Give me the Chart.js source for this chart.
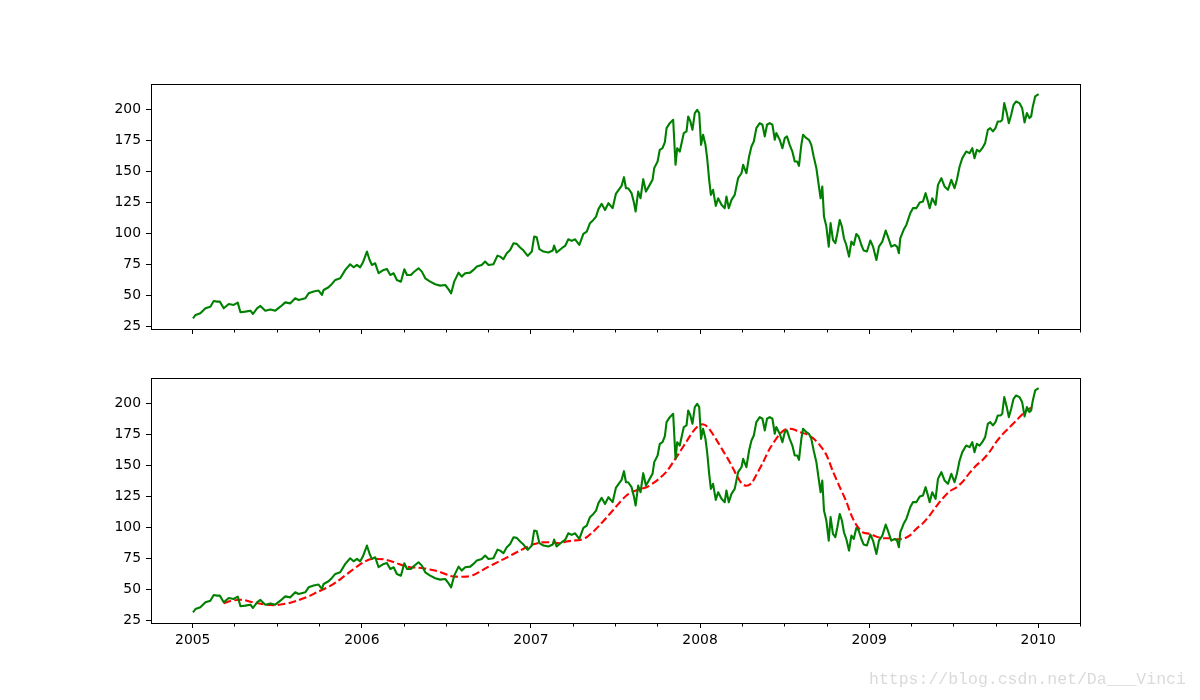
<!DOCTYPE html>
<html>
<head>
<meta charset="utf-8">
<script src="https://cdn.jsdelivr.net/npm/chart.js@4.4.0/dist/chart.umd.min.js"></script>
<style>
  body { margin: 0; background: #fff; }
  #wrap { position: relative; width: 1200px; height: 700px; overflow: hidden; }
  canvas { position: absolute; left: 0; }
  #topChart { top: 0; }
  #bottomChart { top: 350px; }
  .mark { position: absolute; left: 869px; top: 672px; font: 16.5px "Liberation Mono", monospace; line-height: 1; color: #dadada; white-space: pre; }
</style>
</head>
<body>
<div id="wrap">
  <canvas id="topChart" width="1200" height="350"></canvas>
  <canvas id="bottomChart" width="1200" height="350"></canvas>
  <div class="mark">https://blog.csdn.net/Da___Vinci</div>
</div>
<script>
// closing price, time in decimal years
const priceYears = [
  2005.005, 2005.016, 2005.045, 2005.075, 2005.104, 2005.124, 2005.144, 2005.160, 2005.183, 2005.213,
  2005.242, 2005.266, 2005.282, 2005.311, 2005.341, 2005.356, 2005.380, 2005.400, 2005.429, 2005.459,
  2005.488, 2005.518, 2005.547, 2005.577, 2005.606, 2005.626, 2005.666, 2005.685, 2005.715, 2005.744,
  2005.764, 2005.774, 2005.803, 2005.823, 2005.843, 2005.872, 2005.902, 2005.931, 2005.951, 2005.971,
  2005.990, 2006.006, 2006.030, 2006.046, 2006.059, 2006.079, 2006.099, 2006.129, 2006.148, 2006.168,
  2006.188, 2006.207, 2006.231, 2006.251, 2006.267, 2006.290, 2006.306, 2006.335, 2006.355, 2006.375,
  2006.404, 2006.434, 2006.463, 2006.493, 2006.513, 2006.528, 2006.546, 2006.572, 2006.591, 2006.611,
  2006.641, 2006.660, 2006.680, 2006.709, 2006.729, 2006.749, 2006.778, 2006.802, 2006.818, 2006.837,
  2006.857, 2006.877, 2006.897, 2006.916, 2006.936, 2006.956, 2006.981, 2007.005, 2007.019, 2007.034,
  2007.050, 2007.074, 2007.103, 2007.129, 2007.137, 2007.152, 2007.182, 2007.202, 2007.221, 2007.241,
  2007.261, 2007.286, 2007.310, 2007.330, 2007.349, 2007.369, 2007.385, 2007.399, 2007.418, 2007.438,
  2007.458, 2007.483, 2007.502, 2007.522, 2007.536, 2007.550, 2007.562, 2007.575, 2007.595, 2007.609,
  2007.619, 2007.634, 2007.648, 2007.664, 2007.680, 2007.699, 2007.719, 2007.729, 2007.749, 2007.762,
  2007.778, 2007.792, 2007.802, 2007.821, 2007.841, 2007.855, 2007.865, 2007.880, 2007.904, 2007.920,
  2007.930, 2007.943, 2007.955, 2007.969, 2007.983, 2007.995, 2008.006, 2008.018, 2008.032, 2008.042,
  2008.054, 2008.064, 2008.077, 2008.093, 2008.107, 2008.127, 2008.146, 2008.156, 2008.170, 2008.186,
  2008.205, 2008.225, 2008.245, 2008.255, 2008.274, 2008.290, 2008.304, 2008.318, 2008.333, 2008.353,
  2008.369, 2008.383, 2008.396, 2008.412, 2008.428, 2008.442, 2008.451, 2008.471, 2008.487, 2008.501,
  2008.514, 2008.530, 2008.546, 2008.560, 2008.574, 2008.585, 2008.599, 2008.609, 2008.629, 2008.644,
  2008.658, 2008.672, 2008.688, 2008.703, 2008.713, 2008.723, 2008.733, 2008.747, 2008.761, 2008.772,
  2008.786, 2008.800, 2008.812, 2008.826, 2008.839, 2008.851, 2008.865, 2008.881, 2008.895, 2008.909,
  2008.924, 2008.938, 2008.954, 2008.968, 2008.987, 2009.007, 2009.023, 2009.043, 2009.058, 2009.078,
  2009.098, 2009.111, 2009.131, 2009.151, 2009.165, 2009.176, 2009.184, 2009.204, 2009.220, 2009.230,
  2009.243, 2009.259, 2009.279, 2009.299, 2009.318, 2009.334, 2009.348, 2009.358, 2009.373, 2009.393,
  2009.407, 2009.427, 2009.446, 2009.466, 2009.486, 2009.505, 2009.519, 2009.535, 2009.551, 2009.574,
  2009.594, 2009.610, 2009.623, 2009.637, 2009.653, 2009.669, 2009.686, 2009.702, 2009.716, 2009.732,
  2009.747, 2009.761, 2009.777, 2009.787, 2009.799, 2009.814, 2009.826, 2009.840, 2009.854, 2009.869,
  2009.889, 2009.905, 2009.919, 2009.933, 2009.948, 2009.958, 2009.968, 2009.982, 2009.997
];
const priceValues = [
  32.3, 34.4, 35.8, 39.8, 41.1, 45.7, 45.2, 45.2, 39.8, 43.3,
  42.5, 44.4, 36.6, 37.1, 37.9, 35.2, 39.8, 41.7, 37.9, 38.9,
  37.9, 41.1, 44.6, 43.8, 47.9, 46.5, 47.9, 51.9, 53.3, 54.1,
  50.6, 54.6, 56.8, 59.5, 62.7, 64.0, 70.8, 75.3, 72.9, 74.8,
  72.9, 76.7, 85.6, 78.8, 74.8, 76.1, 68.1, 70.8, 71.6, 66.7,
  68.1, 62.7, 61.3, 71.3, 66.7, 66.7, 68.9, 72.1, 69.4, 64.0,
  61.3, 59.2, 58.1, 58.6, 55.1, 51.9, 61.3, 68.6, 65.4, 68.1,
  68.6, 70.8, 73.5, 74.8, 77.5, 74.8, 75.3, 82.3, 81.5, 79.4,
  84.2, 86.9, 92.3, 91.8, 88.8, 86.4, 82.1, 85.6, 97.7, 97.1,
  87.5, 85.6, 84.8, 86.4, 90.4, 84.8, 88.3, 90.1, 95.5, 94.2,
  95.5, 90.9, 99.8, 101.7, 108.5, 111.1, 113.8, 119.8, 124.1, 119.2,
  124.6, 120.6, 132.1, 135.9, 138.6, 145.6, 136.7, 136.7, 132.7, 125.1,
  117.9, 134.0, 128.6, 144.0, 134.0, 138.6, 143.5, 152.9, 158.3, 167.7,
  169.0, 173.9, 185.2, 189.2, 191.9, 155.6, 169.0, 166.3, 181.2, 182.5,
  194.6, 190.6, 183.8, 197.3, 200.0, 197.3, 171.7, 179.8, 171.7, 161.0,
  143.5, 131.3, 135.4, 122.5, 128.6, 123.3, 120.6, 130.0, 120.6, 127.3,
  131.3, 144.8, 148.8, 155.6, 148.8, 162.3, 170.4, 174.4, 185.2, 189.2,
  187.9, 178.5, 187.9, 189.2, 187.9, 175.8, 181.2, 175.8, 169.0, 177.1,
  178.5, 171.7, 166.3, 158.3, 158.3, 154.8, 171.7, 179.8, 177.1, 175.8,
  171.7, 162.3, 152.9, 138.1, 128.6, 138.1, 113.8, 105.8, 89.6, 108.5,
  95.0, 92.3, 100.4, 111.1, 105.8, 96.3, 90.9, 81.5, 93.6, 90.9,
  99.8, 97.7, 90.9, 86.4, 85.6, 94.5, 89.6, 78.8, 89.6, 93.6,
  102.5, 97.7, 89.6, 90.9, 89.6, 84.2, 96.3, 103.1, 107.1, 111.1,
  116.5, 120.6, 120.6, 125.1, 125.9, 132.7, 125.9, 120.6, 128.6, 123.3,
  139.4, 144.8, 138.1, 135.4, 143.5, 136.7, 143.5, 154.2, 161.0, 166.3,
  165.0, 169.0, 161.0, 167.7, 166.3, 169.0, 173.1, 183.8, 185.2, 182.5,
  185.2, 190.6, 190.6, 191.9, 205.4, 197.3, 189.2, 196.0, 204.0, 206.7,
  205.4, 201.3, 189.8, 197.3, 193.3, 194.6, 202.7, 210.8, 212.1
];

// moving average (red dashed, lower panel)
const maYears = [
  2005.183, 2005.223, 2005.262, 2005.301, 2005.341, 2005.380, 2005.419, 2005.459, 2005.498, 2005.538,
  2005.577, 2005.616, 2005.656, 2005.695, 2005.734, 2005.774, 2005.813, 2005.853, 2005.892, 2005.931,
  2005.971, 2006.010, 2006.049, 2006.089, 2006.128, 2006.168, 2006.207, 2006.246, 2006.286, 2006.325,
  2006.364, 2006.404, 2006.443, 2006.483, 2006.522, 2006.561, 2006.620, 2006.660, 2006.699, 2006.739,
  2006.778, 2006.817, 2006.857, 2006.896, 2006.935, 2006.975, 2007.014, 2007.054, 2007.093, 2007.132,
  2007.172, 2007.211, 2007.250, 2007.290, 2007.329, 2007.369, 2007.408, 2007.447, 2007.487, 2007.526,
  2007.565, 2007.605, 2007.644, 2007.684, 2007.723, 2007.762, 2007.802, 2007.841, 2007.880, 2007.920,
  2007.959, 2007.999, 2008.028, 2008.058, 2008.097, 2008.136, 2008.176, 2008.215, 2008.245, 2008.274,
  2008.304, 2008.333, 2008.373, 2008.412, 2008.471, 2008.501, 2008.530, 2008.560, 2008.589, 2008.629,
  2008.668, 2008.707, 2008.747, 2008.786, 2008.825, 2008.865, 2008.894, 2008.924, 2008.963, 2009.003,
  2009.042, 2009.081, 2009.121, 2009.160, 2009.200, 2009.239, 2009.278, 2009.318, 2009.357, 2009.396,
  2009.436, 2009.475, 2009.515, 2009.554, 2009.593, 2009.633, 2009.672, 2009.711, 2009.751, 2009.790,
  2009.830, 2009.869, 2009.908, 2009.948, 2009.977
];
const maValues = [
  39.0, 40.9, 41.7, 41.7, 40.3, 39.3, 38.2, 37.6, 37.6, 38.5,
  39.5, 41.1, 43.0, 45.2, 47.9, 50.3, 53.0, 56.5, 60.5, 64.6,
  68.6, 72.1, 74.5, 74.8, 74.5, 73.2, 71.3, 69.4, 68.1, 67.8,
  67.3, 66.2, 65.1, 63.2, 61.1, 60.5, 60.5, 61.9, 64.6, 67.8,
  70.5, 73.2, 75.9, 78.8, 81.5, 84.2, 86.6, 88.0, 88.3, 88.0,
  87.5, 88.8, 89.6, 90.1, 92.3, 96.9, 102.3, 108.2, 114.4, 120.6,
  126.0, 129.2, 131.1, 132.7, 135.9, 140.0, 145.3, 152.9, 161.0, 169.6,
  177.7, 183.0, 183.0, 179.0, 170.9, 162.0, 152.9, 142.6, 135.9, 133.8,
  135.9, 142.6, 152.9, 163.7, 175.5, 179.0, 179.8, 179.0, 177.1, 175.5,
  172.3, 166.9, 158.8, 145.3, 133.2, 121.1, 110.3, 102.3, 96.3, 95.0,
  92.8, 91.5, 91.5, 90.7, 91.0, 93.6, 99.0, 103.6, 109.8, 117.1,
  123.8, 129.2, 132.4, 137.3, 144.0, 150.2, 154.8, 161.0, 169.0, 175.5,
  180.9, 186.3, 191.7, 196.0, 197.8
];

const yearTicks = [2005, 2006, 2007, 2008, 2009, 2010];
const valueTicks = [25, 50, 75, 100, 125, 150, 175, 200];
const xMin = 2004.753, xMax = 2010.247;
const yMin = 23.1, yMax = 220.8;

const tickFont = { family: 'DejaVu Sans', size: 13.9 };

function points(xs, ys) {
  return xs.map((x, i) => ({ x: x, y: ys[i] }));
}

// matplotlib style box + quarterly minor ticks
const framePlugin = {
  id: 'frame',
  afterDraw(chart) {
    const ctx = chart.ctx, a = chart.chartArea, xs = chart.scales.x;
    ctx.save();
    ctx.strokeStyle = '#000';
    ctx.lineWidth = 1;
    const l = Math.round(a.left) + 0.5, r = Math.round(a.right) + 0.5;
    const t = Math.round(a.top) + 0.5, b = Math.round(a.bottom) + 0.5;
    ctx.strokeRect(l, t, r - l, b - t);
    ctx.beginPath();
    for (let yr = 2004; yr <= 2010; yr++) {
      const leap = yr % 4 === 0 ? 1 : 0;
      const len = 365 + leap;
      [90 + leap, 181 + leap, 273 + leap].forEach(d => {
        const v = yr + d / len;
        if (v < xMin - 0.002 || v > xMax + 0.002) return;
        const px = Math.round(xs.getPixelForValue(v)) + 0.5;
        ctx.moveTo(px, b);
        ctx.lineTo(px, b + 3);
      });
    }
    ctx.stroke();
    ctx.restore();
  }
};

function makeChart(id, datasets, padTop, axisHeight, showYears) {
  return new Chart(document.getElementById(id), {
    type: 'line',
    data: { datasets: datasets },
    options: {
      responsive: false,
      animation: false,
      devicePixelRatio: 1,
      events: [],
      layout: { padding: { left: 0, right: 120, top: padTop, bottom: 0 } },
      plugins: { legend: { display: false }, tooltip: { enabled: false } },
      elements: { point: { radius: 0 } },
      scales: {
        x: {
          type: 'linear',
          min: xMin,
          max: xMax,
          afterBuildTicks: s => { s.ticks = yearTicks.map(v => ({ value: v })); },
          afterFit: s => { s.height = axisHeight; },
          border: { display: false },
          grid: { drawOnChartArea: false, tickLength: 5, tickColor: '#000', tickWidth: 1 },
          ticks: {
            display: showYears,
            color: '#000',
            font: tickFont,
            padding: 4,
            maxRotation: 0,
            autoSkip: false,
            callback: v => String(v)
          }
        },
        y: {
          min: yMin,
          max: yMax,
          afterBuildTicks: s => { s.ticks = valueTicks.map(v => ({ value: v })); },
          afterFit: s => { s.width = 151; },
          border: { display: false },
          grid: { drawOnChartArea: false, tickLength: 5, tickColor: '#000', tickWidth: 1 },
          ticks: { color: '#000', font: tickFont, padding: 5, callback: v => String(v) }
        }
      }
    },
    plugins: [framePlugin]
  });
}

const priceLine = () => ({
  data: points(priceYears, priceValues),
  borderColor: '#008000',
  borderWidth: 2.1,
  borderJoinStyle: 'round',
  borderCapStyle: 'square',
  tension: 0,
  fill: false
});

makeChart('topChart', [priceLine()], 84, 21, false);

makeChart('bottomChart', [
  priceLine(),
  {
    data: points(maYears, maValues),
    borderColor: '#ff0000',
    borderWidth: 2.1,
    borderDash: [7.7, 3.3],
    borderJoinStyle: 'round',
    tension: 0.3,
    fill: false
  }
], 28, 77, true);
</script>
</body>
</html>
